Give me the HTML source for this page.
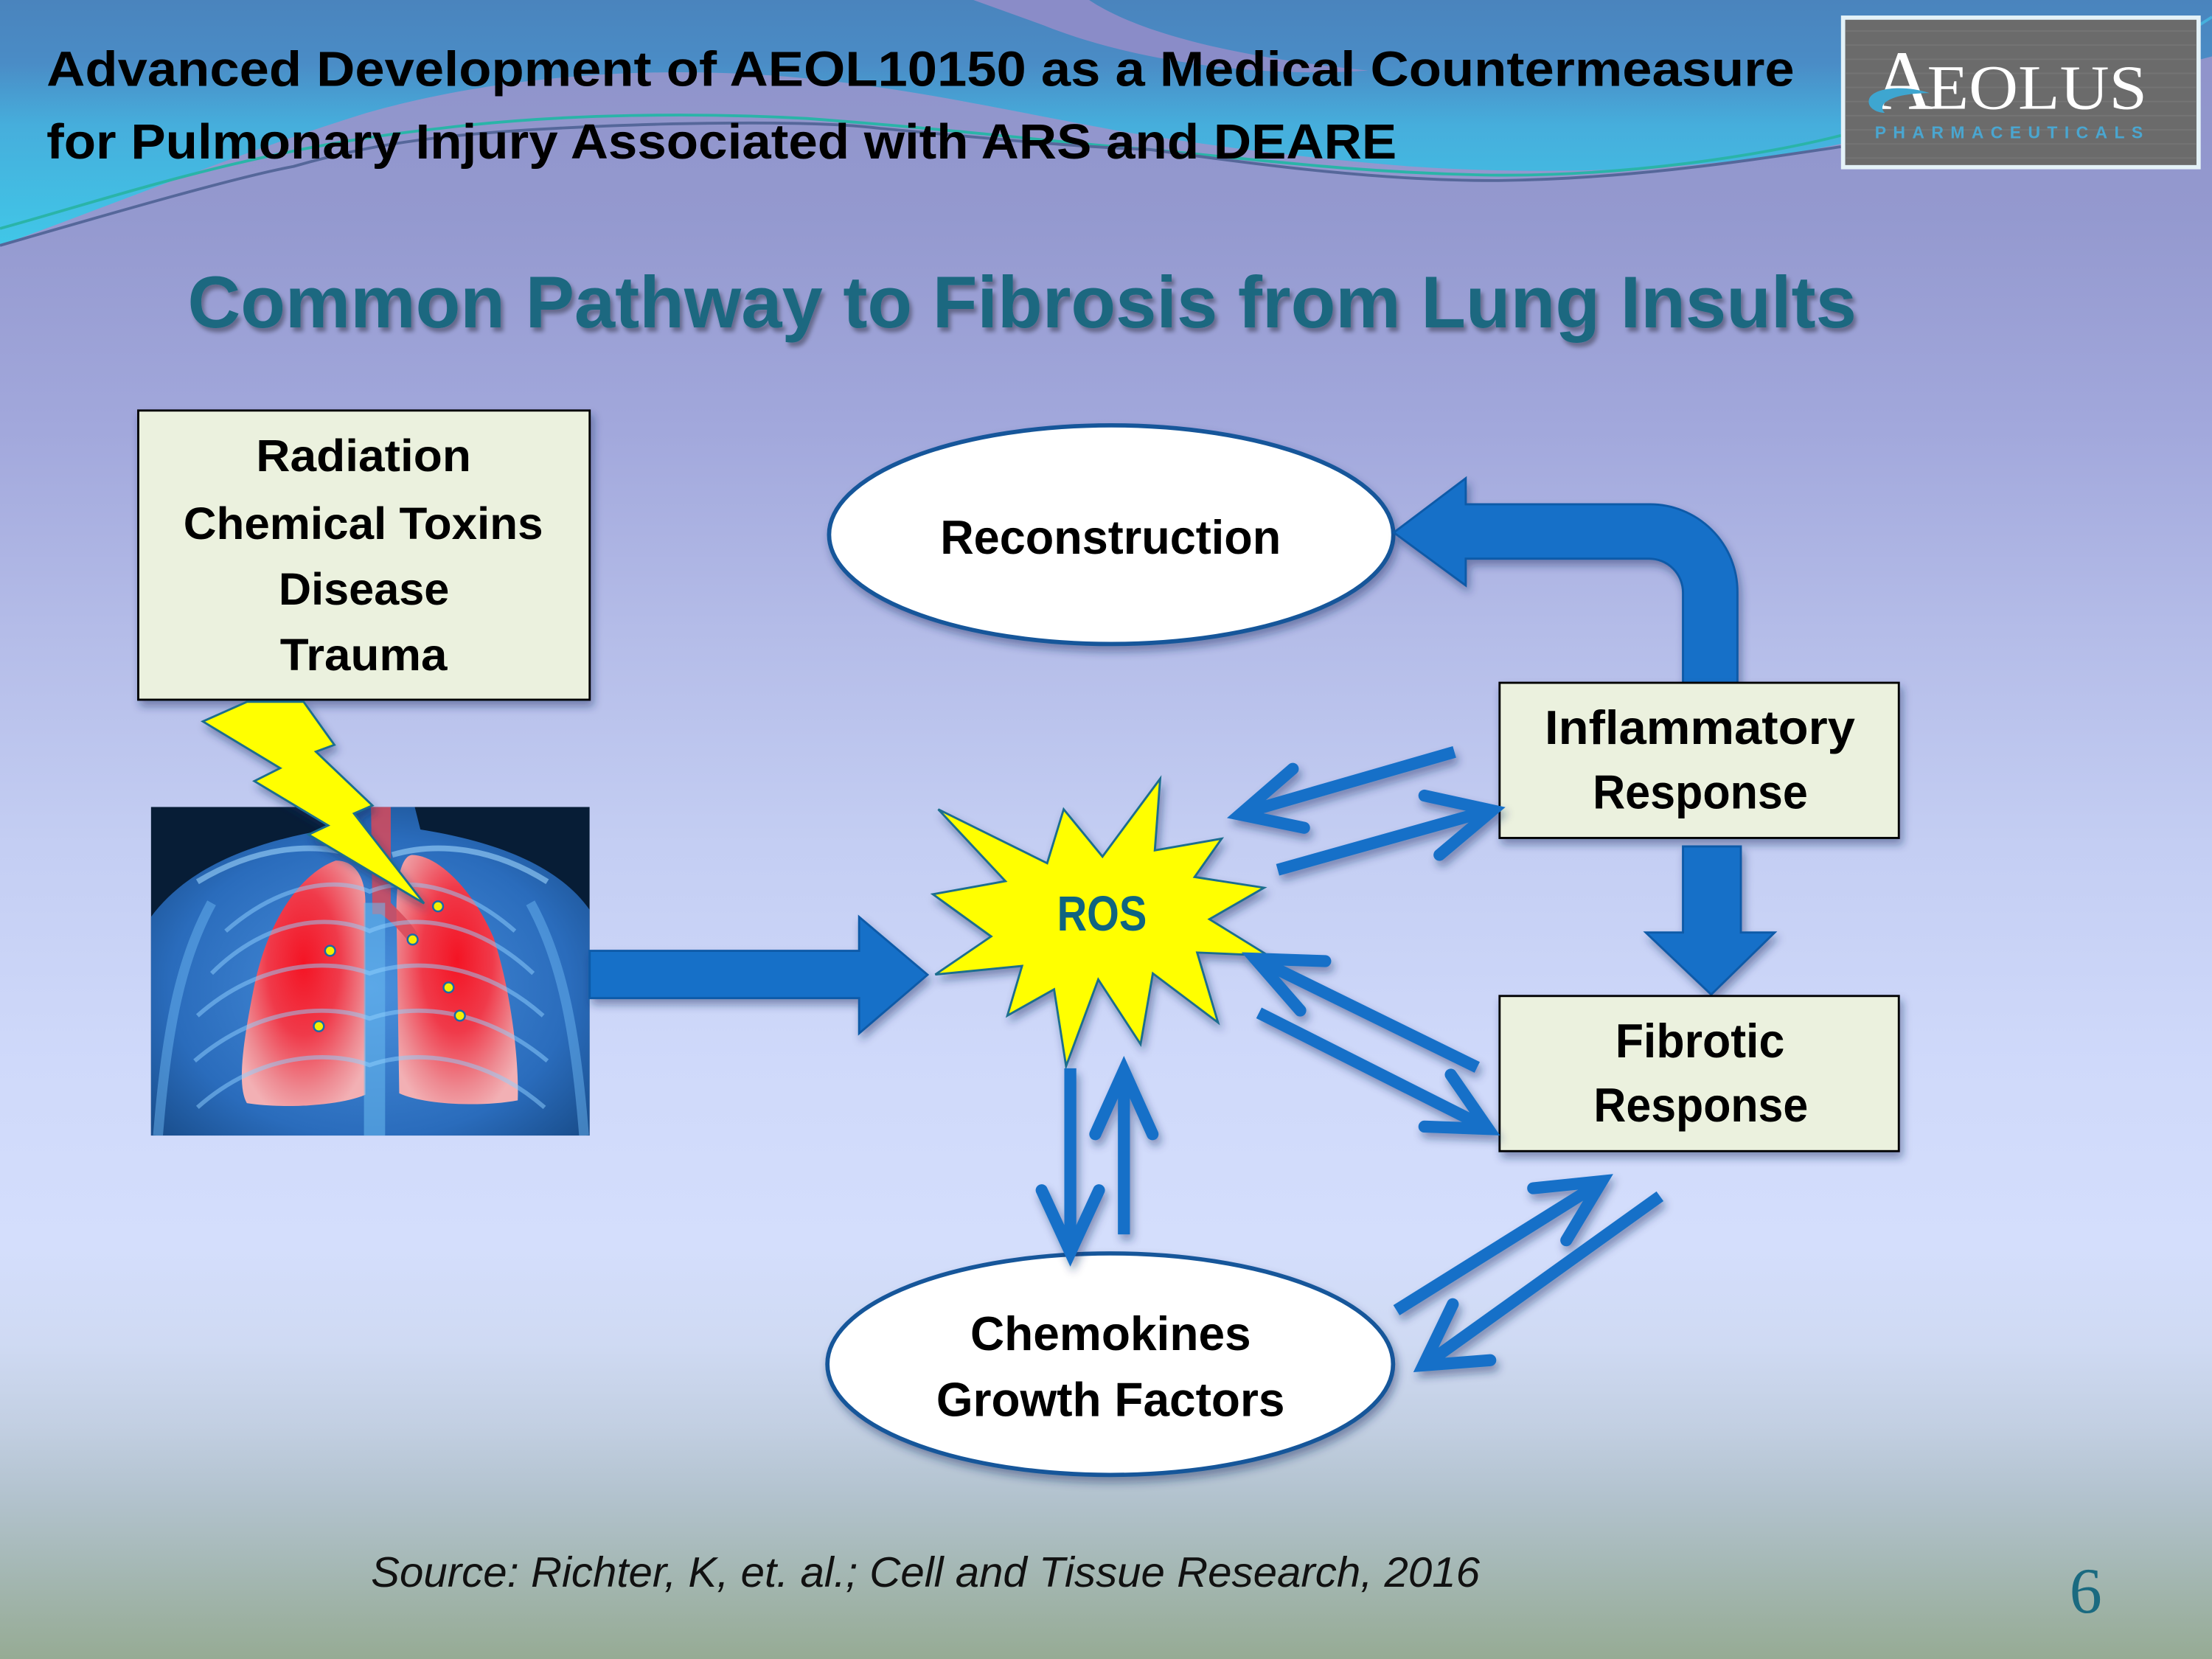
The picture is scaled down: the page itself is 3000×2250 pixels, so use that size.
<!DOCTYPE html>
<html><head><meta charset="utf-8"><style>
html,body{margin:0;padding:0;background:#fff;}
svg{display:block;}
text{font-family:"Liberation Sans",sans-serif;font-weight:bold;}
</style></head><body>
<svg width="3000" height="2250" viewBox="0 0 1568 1176" xmlns="http://www.w3.org/2000/svg">
<defs>
<linearGradient id="bg" x1="0" y1="0" x2="0" y2="1176" gradientUnits="userSpaceOnUse">
<stop offset="0" stop-color="#8e92c9"/>
<stop offset="0.13" stop-color="#9499cf"/>
<stop offset="0.26" stop-color="#a2a8dc"/>
<stop offset="0.38" stop-color="#b4bce8"/>
<stop offset="0.51" stop-color="#c4cef3"/>
<stop offset="0.64" stop-color="#cfd9fa"/>
<stop offset="0.75" stop-color="#d4defc"/>
<stop offset="0.81" stop-color="#cfdaf3"/>
<stop offset="0.86" stop-color="#c2cfe2"/>
<stop offset="0.90" stop-color="#b3c3cf"/>
<stop offset="0.945" stop-color="#a5b8b5"/>
<stop offset="1" stop-color="#96ab94"/>
</linearGradient>
<linearGradient id="topg" x1="0" y1="0" x2="0" y2="178" gradientUnits="userSpaceOnUse">
<stop offset="0" stop-color="#4a84bd"/>
<stop offset="0.25" stop-color="#4a8cc6"/>
<stop offset="0.5" stop-color="#46aedc"/>
<stop offset="1" stop-color="#40c8e8"/>
</linearGradient>
<radialGradient id="lungG" cx="0.5" cy="0.42" r="0.65">
<stop offset="0" stop-color="#f41424"/>
<stop offset="0.45" stop-color="#f03a4a"/>
<stop offset="0.8" stop-color="#ee8a92"/>
<stop offset="1" stop-color="#f2b0b4"/>
</radialGradient>
<radialGradient id="torso" cx="0.5" cy="0.55" r="0.65">
<stop offset="0" stop-color="#4a90dc"/>
<stop offset="0.7" stop-color="#2a6cbc"/>
<stop offset="1" stop-color="#1a4f8e"/>
</radialGradient>
<filter id="sh" x="-20%" y="-20%" width="140%" height="150%">
<feDropShadow dx="2" dy="4" stdDeviation="3" flood-color="#1c2c60" flood-opacity="0.45"/>
</filter>
<filter id="tsh" x="-5%" y="-20%" width="110%" height="150%">
<feDropShadow dx="2" dy="3" stdDeviation="1.5" flood-color="#000" flood-opacity="0.35"/>
</filter>
<clipPath id="lc"><rect x="107" y="572" width="311" height="233"/></clipPath>
</defs>

<!-- background -->
<rect width="1568" height="1176" fill="url(#bg)"/>
<path d="M0,0 H1568 V40 C1480,62 1380,98 1305,102 C1230,118 1120,126 1000,118 C900,110 840,100 800,94 C700,76 620,56 520,52 C420,48 330,60 260,80 C170,108 80,145 0,174 Z" fill="url(#topg)"/>
<path d="M690,0 L772,0 C805,22 870,40 970,50 C880,56 795,40 740,18 Z" fill="#8a8cc8"/>
<path d="M0,162 C80,140 180,105 312,91 C400,80 500,80 572,84 C680,92 760,102 815,106 C900,114 960,122 1050,124 C1150,126 1250,110 1305,96" fill="none" stroke="#2ab4a8" stroke-width="2"/>
<path d="M0,174 C90,148 170,125 208,118 C270,100 330,92 468,88 C560,86 600,88 624,91 C700,98 760,104 815,106 C900,118 980,128 1060,128 C1160,127 1250,112 1305,104" fill="none" stroke="#55679a" stroke-width="2"/>
<path d="M1540,30 L1568,12" stroke="#46b0dc" stroke-width="2"/>

<!-- titles -->
<text x="33" y="61" font-size="35" fill="#000" textLength="1239" lengthAdjust="spacingAndGlyphs">Advanced Development of AEOL10150 as a Medical Countermeasure</text>
<text x="33" y="112.5" font-size="35" fill="#000" textLength="957" lengthAdjust="spacingAndGlyphs">for Pulmonary Injury Associated with ARS and DEARE</text>

<!-- logo -->
<rect x="1306.5" y="12.5" width="252" height="106" fill="#6b6b6b" stroke="#e4f2f8" stroke-width="3"/>
<g stroke="#747474" stroke-width="1">
<line x1="1308" y1="22" x2="1557" y2="22"/><line x1="1308" y1="32" x2="1557" y2="32"/><line x1="1308" y1="42" x2="1557" y2="42"/><line x1="1308" y1="52" x2="1557" y2="52"/><line x1="1308" y1="62" x2="1557" y2="62"/><line x1="1308" y1="72" x2="1557" y2="72"/><line x1="1308" y1="82" x2="1557" y2="82"/><line x1="1308" y1="92" x2="1557" y2="92"/><line x1="1308" y1="102" x2="1557" y2="102"/><line x1="1308" y1="112" x2="1557" y2="112"/>
</g>
<text x="1327" y="77" font-size="60" fill="#fff" style="font-family:'Liberation Serif',serif;font-weight:normal">A</text>
<text x="1366" y="77" font-size="45" fill="#fff" style="font-family:'Liberation Serif',serif;font-weight:normal" textLength="156" lengthAdjust="spacingAndGlyphs">EOLUS</text>
<path d="M1368,66 C1350,60 1328,62 1325,70 C1323,76 1330,80 1336,80 C1330,74 1340,66 1368,66 Z" fill="#3ea6d0"/>
<text x="1329" y="98" font-size="12" fill="#4aa6d0" textLength="190" lengthAdjust="spacing">PHARMACEUTICALS</text>

<!-- heading -->
<text x="133" y="232" font-size="52" fill="#1a6880" filter="url(#tsh)" textLength="1183" lengthAdjust="spacingAndGlyphs">Common Pathway to Fibrosis from Lung Insults</text>

<!-- Radiation box -->
<rect x="98" y="291" width="320" height="205" fill="#ebf1de" stroke="#000" stroke-width="1.5" filter="url(#sh)"/>
<text x="181.5" y="334" font-size="32" fill="#000" textLength="152.5" lengthAdjust="spacingAndGlyphs">Radiation</text>
<text x="130" y="382" font-size="32" fill="#000" textLength="255" lengthAdjust="spacingAndGlyphs">Chemical Toxins</text>
<text x="197.5" y="428.5" font-size="32" fill="#000" textLength="121" lengthAdjust="spacingAndGlyphs">Disease</text>
<text x="198.5" y="475" font-size="32" fill="#000" textLength="118.5" lengthAdjust="spacingAndGlyphs">Trauma</text>

<!-- lung image -->
<g clip-path="url(#lc)">
<rect x="107" y="572" width="311" height="233" fill="#071d36"/>
<path d="M107,650 C135,612 185,596 232,588 L238,572 L294,572 L298,588 C348,596 395,612 418,645 V805 H107 Z" fill="url(#torso)"/>
<path d="M112,805 C118,730 128,680 150,640 M414,805 C408,730 398,680 376,640" fill="none" stroke="#6ab4f0" stroke-width="7" opacity="0.5"/>
<path d="M140,625 C185,598 225,598 252,606 M388,625 C345,598 305,598 278,606" fill="none" stroke="#9cd4fa" stroke-width="4" opacity="0.6"/>
<path d="M238,610 C215,618 190,650 180,700 C172,740 168,770 175,782 C200,786 240,784 259,776 L259,640 C259,622 252,610 238,610 Z" fill="url(#lungG)"/>
<path d="M292,606 C310,606 335,630 350,665 C363,705 368,755 367,780 C340,785 300,783 283,775 L281,645 C281,625 284,607 292,606 Z" fill="url(#lungG)"/>
<path d="M263,572 L277,572 L277,640 C285,648 292,655 296,662 L290,668 C284,660 276,652 270,648 L264,648 Z" fill="#d84a5a" opacity="0.85"/>
<rect x="258" y="640" width="15" height="165" fill="#6abcf0" opacity="0.55"/>
<g fill="none" stroke="#90d0ff" stroke-width="3" opacity="0.5">
<path d="M150,690 C190,650 235,648 262,660 C290,648 335,650 378,690"/>
<path d="M140,720 C185,680 235,680 262,690 C290,680 340,680 385,720"/>
<path d="M138,752 C185,712 235,712 262,722 C290,712 340,712 388,752"/>
<path d="M140,785 C185,745 235,745 262,755 C290,745 340,745 386,785"/>
<path d="M160,660 C200,625 240,622 262,632 C285,622 325,625 365,660"/>
</g>
<g fill="#f4f000" stroke="#1a6aa8" stroke-width="1.3">
<circle cx="310.5" cy="642.5" r="3.6"/><circle cx="292.5" cy="666" r="3.6"/><circle cx="234" cy="674" r="3.6"/><circle cx="318" cy="700" r="3.6"/><circle cx="326" cy="720" r="3.6"/><circle cx="226" cy="727.5" r="3.6"/>
</g>
</g>

<!-- lightning bolt -->
<polygon points="143.8,511.4 175.1,497.5 215.2,497.5 237,528 223.9,532.8 264,571 250.9,576.7 300.6,640.4 218.7,591.6 232.6,585.1 180.3,553.7 198.6,544.5" fill="#ffff00" stroke="#1a6e8e" stroke-width="1.5" stroke-linejoin="miter" filter="url(#sh)"/>

<!-- big right arrow -->
<polygon points="418,674 609,674 609,650 657.5,691 609,732.5 609,707.5 418,707.5" fill="#1570c8" stroke="#0d5aa8" stroke-width="1.5" filter="url(#sh)"/>

<!-- ROS star -->
<polygon points="665.1,573.7 742.3,611.9 754,573.7 781.5,607.2 822.4,552 818.6,602.8 866,594.5 846.8,621.7 896,629.3 857.3,651.6 899.1,677.4 848.6,675.2 863.4,724.8 817.2,690 808.5,740.2 778.5,694.3 755.7,755.7 747.2,701.3 714.1,719.9 724.5,684.7 663,690.8 702.6,663.8 661.3,633.9 712.7,624.6" fill="#ffff00" stroke="#1a6e8e" stroke-width="1.5" filter="url(#sh)"/>
<text x="749.3" y="659.5" font-size="35" fill="#0f6480" textLength="63.6" lengthAdjust="spacingAndGlyphs">ROS</text>

<!-- Reconstruction ellipse -->
<ellipse cx="787.7" cy="379" rx="200" ry="77.5" fill="#fff" stroke="#15579a" stroke-width="3" filter="url(#sh)"/>
<text x="666.5" y="392.5" font-size="34" fill="#000" textLength="241.5" lengthAdjust="spacingAndGlyphs">Reconstruction</text>

<!-- bent arrow -->
<path d="M1231.6,487.5 V419.5 A62,62 0 0 0 1169.6,357.5 H1039 V339 L988,377.5 L1039,415 V396 H1169 A24,24 0 0 1 1193,420 V487.5 Z" fill="#1570c8" stroke="#0d5aa8" stroke-width="1.5" filter="url(#sh)"/>

<!-- Inflammatory box -->
<rect x="1063" y="484" width="283" height="110" fill="#ebf1de" stroke="#000" stroke-width="1.5" filter="url(#sh)"/>
<text x="1095" y="527.5" font-size="34" fill="#000" textLength="220" lengthAdjust="spacingAndGlyphs">Inflammatory</text>
<text x="1129" y="573" font-size="34" fill="#000" textLength="152.5" lengthAdjust="spacingAndGlyphs">Response</text>

<!-- down arrow -->
<polygon points="1193,600 1234,600 1234,661 1258,661 1213,705 1166.6,661 1193,661" fill="#1570c8" stroke="#0d5aa8" stroke-width="1.5" filter="url(#sh)"/>

<!-- Fibrotic box -->
<rect x="1063" y="706" width="283" height="110" fill="#ebf1de" stroke="#000" stroke-width="1.5" filter="url(#sh)"/>
<text x="1145" y="749.6" font-size="34" fill="#000" textLength="120" lengthAdjust="spacingAndGlyphs">Fibrotic</text>
<text x="1129.7" y="795" font-size="34" fill="#000" textLength="152" lengthAdjust="spacingAndGlyphs">Response</text>

<!-- Chemokines ellipse -->
<ellipse cx="787" cy="967" rx="200.5" ry="78.5" fill="#fff" stroke="#15579a" stroke-width="3" filter="url(#sh)"/>
<text x="687.8" y="957" font-size="34" fill="#000" textLength="199" lengthAdjust="spacingAndGlyphs">Chemokines</text>
<text x="663.7" y="1003.8" font-size="34" fill="#000" textLength="247" lengthAdjust="spacingAndGlyphs">Growth Factors</text>

<!-- thin arrows -->
<g fill="none" stroke="#1570c8" stroke-width="8.5" stroke-linecap="round" stroke-linejoin="miter" filter="url(#sh)">
<path d="M1031,533 L882,576" stroke-linecap="butt"/><path d="M916.4,545 L879,577.4 L924.4,586.8"/>
<path d="M905.7,616.6 L1054,575" stroke-linecap="butt"/><path d="M1009.7,564 L1057.8,574.5 L1020.4,606"/>
<path d="M1047.1,756.6 L893,681" stroke-linecap="butt"/><path d="M939.4,681.3 L889.7,679.6 L921.7,716.3"/>
<path d="M892.4,718 L1051,798" stroke-linecap="butt"/><path d="M1028.4,761.8 L1055,800.3 L1009.7,798.6"/>
<path d="M758.7,757.3 L758.7,884" stroke-linecap="butt"/><path d="M738.4,843.7 L758.7,887.7 L779,843.7"/>
<path d="M796.7,875 L796.7,762" stroke-linecap="butt"/><path d="M776.4,804 L796.7,758.8 L817,804"/>
<path d="M989.9,928.8 L1132,840" stroke-linecap="butt"/><path d="M1086.8,842.3 L1135.5,837.3 L1110.3,879.2"/>
<path d="M1176.7,848 L1012,966" stroke-linecap="butt"/><path d="M1029.8,924.5 L1008.9,967.9 L1056.4,964.2"/>
</g>

<!-- footer -->
<text x="263" y="1124.8" font-size="30" font-style="italic" style="font-weight:normal" fill="#111" textLength="786" lengthAdjust="spacingAndGlyphs">Source: Richter, K, et. al.; Cell and Tissue Research, 2016</text>
<text x="1467" y="1143" font-size="46" style="font-family:'Liberation Serif',serif;font-weight:normal" fill="#1a6a80">6</text>
</svg>
</body></html>
